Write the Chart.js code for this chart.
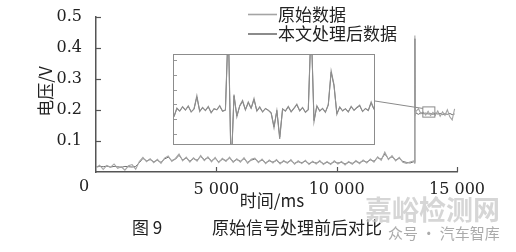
<!DOCTYPE html>
<html>
<head>
<meta charset="utf-8">
<script src="https://cdn.jsdelivr.net/npm/chart.js@4.4.1/dist/chart.umd.min.js"></script>
<style>
  body { margin: 0; background: #fff; }
  #wrap { position: relative; width: 516px; height: 252px; }
  #wrap canvas { display: block; }
  #insetBox { position: absolute; left: 173px; top: 54px; width: 202px; height: 91px; box-sizing: border-box; border: 1px solid #8c8c8c; background: #fff; }
</style>
</head>
<body>
<div id="wrap">
  <canvas id="grafico" width="516" height="252"></canvas>
  <div id="insetBox"><canvas id="detalle" width="200" height="89"></canvas></div>
</div>
<script>
// tiempos (ms) de la curva principal
var tiempos = [
  0, 150, 300, 450, 600, 750, 900, 1050, 1200, 1350,
  1500, 1650, 1800, 1950, 2100, 2250, 2400, 2550, 2700, 2850,
  3000, 3150, 3300, 3450, 3600, 3750, 3900, 4050, 4200, 4350,
  4500, 4650, 4800, 4950, 5100, 5250, 5400, 5550, 5700, 5850,
  6000, 6150, 6300, 6450, 6600, 6750, 6900, 7050, 7200, 7350,
  7500, 7650, 7800, 7950, 8100, 8250, 8400, 8550, 8700, 8850,
  9000, 9150, 9300, 9450, 9600, 9750, 9900, 10050, 10200, 10350,
  10500, 10650, 10800, 10950, 11100, 11250, 11400, 11550, 11700, 11850,
  12000, 12150, 12300, 12450, 12600, 12750, 12900, 13050, 13200,
  13240, 13250, 13260, 13300, 13400, 13500, 13600, 13700, 13800, 13900,
  14000, 14100, 14200, 14300, 14400, 14500, 14600, 14700, 14800, 14900
];

// 原始数据 (V)
var original = [
  0.014, 0.022, 0.008, 0.021, 0.015, 0.026, 0.012, 0.017, 0.006, 0.020,
  0.024, 0.009, 0.034, 0.047, 0.033, 0.043, 0.030, 0.041, 0.028, 0.045,
  0.052, 0.034, 0.044, 0.058, 0.036, 0.048, 0.032, 0.046, 0.035, 0.053,
  0.037, 0.049, 0.033, 0.047, 0.030, 0.044, 0.034, 0.048, 0.031, 0.043,
  0.032, 0.046, 0.028, 0.041, 0.045, 0.030, 0.042, 0.027, 0.039, 0.029,
  0.040, 0.026, 0.037, 0.028, 0.040, 0.025, 0.036, 0.027, 0.038, 0.024,
  0.035, 0.026, 0.037, 0.024, 0.034, 0.024, 0.036, 0.026, 0.034, 0.023,
  0.034, 0.025, 0.037, 0.027, 0.039, 0.029, 0.042, 0.032, 0.049, 0.038,
  0.064, 0.040, 0.053, 0.036, 0.047, 0.031, 0.028, 0.032, 0.036,
  0.028, 0.440, 0.180, 0.196, 0.204, 0.188, 0.193, 0.184, 0.196, 0.182,
  0.192, 0.183, 0.197, 0.180, 0.194, 0.183, 0.201, 0.178, 0.168, 0.204
];

// 本文处理后数据 (V)
var procesado = [
  0.016, 0.018, 0.017, 0.019, 0.016, 0.018, 0.017, 0.015, 0.018, 0.017,
  0.016, 0.018, 0.030, 0.044, 0.036, 0.040, 0.033, 0.038, 0.031, 0.042,
  0.048, 0.037, 0.041, 0.054, 0.039, 0.045, 0.035, 0.043, 0.038, 0.050,
  0.040, 0.046, 0.036, 0.044, 0.033, 0.041, 0.037, 0.045, 0.034, 0.040,
  0.035, 0.043, 0.031, 0.038, 0.042, 0.033, 0.039, 0.030, 0.036, 0.032,
  0.037, 0.029, 0.034, 0.031, 0.037, 0.028, 0.033, 0.030, 0.035, 0.027,
  0.032, 0.029, 0.034, 0.027, 0.031, 0.027, 0.033, 0.029, 0.031, 0.026,
  0.031, 0.028, 0.034, 0.030, 0.036, 0.032, 0.039, 0.035, 0.046, 0.041,
  0.058, 0.043, 0.049, 0.039, 0.044, 0.034, 0.031, 0.029, 0.033,
  0.030, 0.430, 0.195, 0.190, 0.186, 0.191, 0.188, 0.190, 0.187, 0.189,
  0.186, 0.190, 0.187, 0.189, 0.185, 0.188, 0.186, 0.189, 0.185, 0.187
];

// ventana ampliada
var tiemposZoom = [
  13580, 13587, 13594, 13601, 13608, 13615, 13622, 13629, 13636, 13643,
  13650, 13657, 13664, 13671, 13678, 13685, 13692, 13699, 13706, 13713,
  13720, 13727, 13734, 13741, 13748, 13755, 13762, 13769, 13776, 13783,
  13790, 13797, 13804, 13811, 13818, 13825, 13832, 13839, 13846, 13853,
  13860, 13867, 13874, 13881, 13888, 13895, 13902, 13909, 13916, 13923,
  13930, 13937, 13944, 13951, 13958, 13965, 13972, 13979, 13986, 13993,
  14000, 14007, 14014, 14021, 14028, 14035, 14042, 14049, 14056, 14063,
  14070
];

var originalZoom = [
  0.1870, 0.1905, 0.1893, 0.1911, 0.1897, 0.1914, 0.1889, 0.1902, 0.1956, 0.1891,
  0.1908, 0.1895, 0.1912, 0.1886, 0.1903, 0.1898, 0.1915, 0.1892, 0.1897, 0.2250,
  0.1650, 0.1960, 0.1870, 0.1915, 0.1936, 0.1898, 0.1930, 0.1905, 0.1944, 0.1893,
  0.1910, 0.1889, 0.1904, 0.1896, 0.1885, 0.1825, 0.1895, 0.1780, 0.1902, 0.1893,
  0.1912, 0.1890, 0.1905, 0.1921, 0.1894, 0.1908, 0.1888, 0.1899, 0.2250, 0.1850,
  0.1915, 0.1893, 0.1904, 0.1888, 0.1920, 0.2056, 0.2000, 0.1880, 0.1910, 0.1894,
  0.1903, 0.1889, 0.1912, 0.1896, 0.1908, 0.1917, 0.1891, 0.1904, 0.1895, 0.1930,
  0.1900
];

var procesadoZoom = [
  0.1872, 0.1903, 0.1894, 0.1909, 0.1898, 0.1912, 0.1891, 0.1901, 0.1950, 0.1893,
  0.1906, 0.1896, 0.1910, 0.1888, 0.1902, 0.1899, 0.1913, 0.1893, 0.1898, 0.2240,
  0.1660, 0.1955, 0.1873, 0.1913, 0.1932, 0.1899, 0.1927, 0.1904, 0.1940, 0.1894,
  0.1908, 0.1891, 0.1903, 0.1897, 0.1887, 0.1830, 0.1896, 0.1788, 0.1901, 0.1894,
  0.1910, 0.1891, 0.1904, 0.1918, 0.1895, 0.1906, 0.1890, 0.1899, 0.2240, 0.1855,
  0.1913, 0.1894, 0.1903, 0.1890, 0.1917, 0.2050, 0.1995, 0.1883, 0.1908, 0.1895,
  0.1902, 0.1891, 0.1910, 0.1897, 0.1906, 0.1914, 0.1892, 0.1903, 0.1896, 0.1926,
  0.1900
];

var ticksZoom = [0.180, 0.186, 0.192, 0.198, 0.204, 0.210];
var rangoZoom = { t0: 13580, t1: 14080, v0: 0.177, v1: 0.210 };

var series = ['原始数据', '本文处理后数据'];
var colores = ['#a4a4a4', '#6e6e6e'];

function puntos(xs, ys) {
    var out = [];
    for (var i = 0; i < xs.length; i++) out.push({ x: xs[i], y: ys[i] });
    return out;
}

function miles(v) {
    return String(v).replace(/\B(?=(\d{3})+(?!\d))/g, ' ');
}

var fuenteCJK = '"Noto Sans CJK SC", sans-serif';
Chart.defaults.font.family = '"DejaVu Serif", serif';
Chart.defaults.color = '#222';

var anotaciones = {
    id: 'anotaciones',
    afterDraw: function (chart) {
        var ctx = chart.ctx;
        var xs = chart.scales.x;
        var ys = chart.scales.y;
        var area = chart.chartArea;
        ctx.save();

        // marcas de escala hacia dentro
        ctx.strokeStyle = '#555';
        ctx.lineWidth = 1.2;
        ys.ticks.forEach(function (t) {
            if (t.value <= 0) return;
            var py = Math.round(ys.getPixelForValue(t.value)) + 0.5;
            ctx.beginPath();
            ctx.moveTo(area.left, py);
            ctx.lineTo(area.left + 5, py);
            ctx.stroke();
        });
        xs.ticks.forEach(function (t) {
            if (t.value <= 0) return;
            var px = Math.round(xs.getPixelForValue(t.value)) + 0.5;
            ctx.beginPath();
            ctx.moveTo(px, area.bottom);
            ctx.lineTo(px, area.bottom - 5);
            ctx.stroke();
        });

        // origen
        ctx.fillStyle = '#222';
        ctx.font = '16px "DejaVu Serif", serif';
        ctx.textAlign = 'center';
        ctx.textBaseline = 'middle';
        ctx.fillText('0', area.left - 12, area.bottom + 15);

        // recuadro de la zona ampliada y linea de union
        var rx0 = xs.getPixelForValue(rangoZoom.t0);
        var rx1 = xs.getPixelForValue(rangoZoom.t1);
        var ry0 = ys.getPixelForValue(rangoZoom.v1);
        var ry1 = ys.getPixelForValue(rangoZoom.v0);
        ctx.strokeStyle = '#8a8a8a';
        ctx.lineWidth = 1;
        ctx.strokeRect(rx0, ry0, rx1 - rx0, ry1 - ry0);
        ctx.beginPath();
        ctx.moveTo(375, 101);
        ctx.lineTo(rx0, ys.getPixelForValue(0.205));
        ctx.stroke();

        // titulos de ejes
        ctx.fillStyle = '#222';
        ctx.font = '17px ' + fuenteCJK;
        ctx.fillText('时间/ms', 272, 201);
        ctx.save();
        ctx.translate(46, (area.top + area.bottom) / 2 - 3);
        ctx.rotate(-Math.PI / 2);
        ctx.fillText('电压/V', 0, 0);
        ctx.restore();

        // leyenda
        var ly = [14.5, 34];
        ctx.textAlign = 'left';
        for (var i = 0; i < series.length; i++) {
            ctx.strokeStyle = colores[i];
            ctx.lineWidth = 1.6;
            ctx.beginPath();
            ctx.moveTo(248, ly[i]);
            ctx.lineTo(277, ly[i]);
            ctx.stroke();
            ctx.fillStyle = '#222';
            ctx.fillText(series[i], 278, ly[i]);
        }

        // pie de figura
        ctx.fillText('图 9', 132, 228);
        ctx.fillText('原始信号处理前后对比', 212, 228);

        // marca de agua
        ctx.fillStyle = 'rgba(200,200,200,0.75)';
        ctx.font = 'bold 27px ' + fuenteCJK;
        ctx.fillText('嘉峪检测网', 365, 210);
        ctx.fillStyle = 'rgba(150,150,150,0.8)';
        ctx.font = '15px ' + fuenteCJK;
        ctx.fillText('众号 · 汽车智库', 388, 233);

        ctx.restore();
    }
};

new Chart(document.getElementById('grafico'), {
    type: 'line',
    data: {
        datasets: [
            { label: series[0], data: puntos(tiempos, original), borderColor: colores[0], borderWidth: 1.1 },
            { label: series[1], data: puntos(tiempos, procesado), borderColor: colores[1], borderWidth: 1 }
        ]
    },
    options: {
        responsive: false,
        animation: false,
        devicePixelRatio: 1,
        layout: { padding: { left: 0, right: 59, top: 17, bottom: 0 } },
        elements: { point: { radius: 0 }, line: { tension: 0 } },
        plugins: { legend: { display: false }, tooltip: { enabled: false } },
        scales: {
            x: {
                type: 'linear',
                min: 0,
                max: 15000,
                grid: { display: false },
                border: { display: true, color: '#555', width: 1.5 },
                ticks: {
                    stepSize: 5000,
                    padding: 0,
                    font: { size: 16 },
                    maxRotation: 0,
                    callback: function (v) { return v === 0 ? '' : miles(v); }
                },
                afterFit: function (scale) { scale.height = 80; }
            },
            y: {
                min: 0,
                max: 0.5,
                grid: { display: false },
                border: { display: true, color: '#555', width: 1.5 },
                ticks: {
                    stepSize: 0.1,
                    padding: 6,
                    font: { size: 16 },
                    callback: function (v) { return v <= 0 ? '' : v.toFixed(1); }
                },
                afterFit: function (scale) { scale.width = 96; }
            }
        }
    },
    plugins: [anotaciones]
});

var marcasZoom = {
    id: 'marcasZoom',
    afterDraw: function (chart) {
        var ctx = chart.ctx;
        var ys = chart.scales.y;
        ctx.save();
        ctx.strokeStyle = '#999';
        ctx.lineWidth = 1;
        ticksZoom.forEach(function (v) {
            var py = Math.round(ys.getPixelForValue(v)) + 0.5;
            ctx.beginPath();
            ctx.moveTo(0, py);
            ctx.lineTo(3, py);
            ctx.stroke();
        });
        ctx.restore();
    }
};

new Chart(document.getElementById('detalle'), {
    type: 'line',
    data: {
        datasets: [
            { label: series[0], data: puntos(tiemposZoom, originalZoom), borderColor: '#8e8e8e', borderWidth: 1.1 },
            { label: series[1], data: puntos(tiemposZoom, procesadoZoom), borderColor: '#7a7a7a', borderWidth: 1 }
        ]
    },
    options: {
        responsive: false,
        animation: false,
        devicePixelRatio: 1,
        layout: { padding: 0 },
        elements: { point: { radius: 0 }, line: { tension: 0 } },
        plugins: { legend: { display: false }, tooltip: { enabled: false } },
        scales: {
            x: { type: 'linear', display: false, min: 13580, max: 14070 },
            y: { display: false, min: 0.176, max: 0.212 }
        }
    },
    plugins: [marcasZoom]
});
</script>
</body>
</html>
